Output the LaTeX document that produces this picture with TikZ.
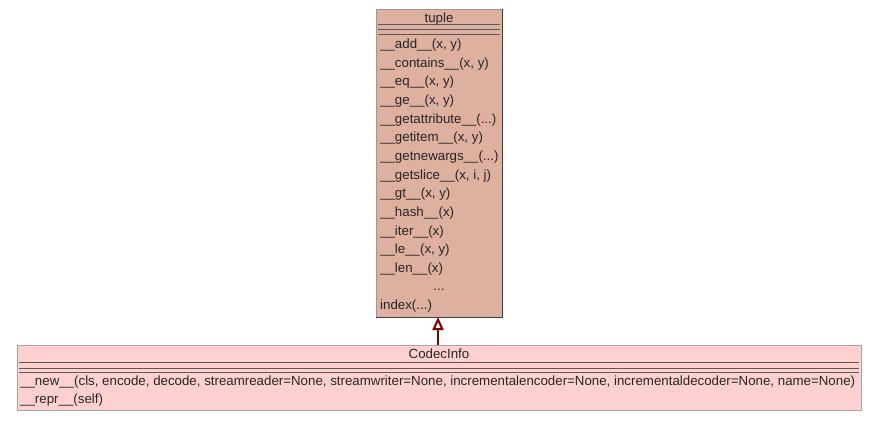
\documentclass[tikz,border=0pt]{standalone}
\usepackage{fontspec}
\setmainfont{Liberation Sans}
\usetikzlibrary{arrows.meta}
\definecolor{tuplefill}{RGB}{222,176,160}
\definecolor{codecfill}{RGB}{255,208,208}
\definecolor{edgered}{RGB}{128,0,0}
\begin{document}
\begin{tikzpicture}[x=1pt,y=-1pt,
  txt/.style={inner sep=0pt,anchor=base west,font=\fontsize{13.3}{14}\selectfont,text=black!85},
  ctxt/.style={inner sep=0pt,anchor=base,font=\fontsize{13.3}{14}\selectfont,text=black!85},
  sep/.style={draw=black!65,line width=0.8pt}]
\useasboundingbox (0,0) rectangle (876,421);
% tuple class
\fill[tuplefill] (376,9) rectangle (502,317);
\draw[black!40,line width=0.8pt] (376,317) -- (376,9) -- (502,9);
\draw[black!75,line width=1pt] (502,9) -- (502,317) -- (376,317);
\draw[sep] (378,24) -- (500,24);
\draw[sep] (378,29) -- (500,29);
\draw[sep] (378,34) -- (500,34);
\node[ctxt] (tupletitle) at (439,22) {tuple};
\node[coordinate] (tuplebot) at (438,317) {};
\node[txt] (tm0) at (380,48.50) {\_\_add\_\_(x, y)};
\node[txt] (tm1) at (380,67.15) {\_\_contains\_\_(x, y)};
\node[txt] (tm2) at (380,85.80) {\_\_eq\_\_(x, y)};
\node[txt] (tm3) at (380,104.45) {\_\_ge\_\_(x, y)};
\node[txt] (tm4) at (380,123.10) {\_\_getattribute\_\_(...)};
\node[txt] (tm5) at (380,141.75) {\_\_getitem\_\_(x, y)};
\node[txt] (tm6) at (380,160.40) {\_\_getnewargs\_\_(...)};
\node[txt] (tm7) at (380,179.05) {\_\_getslice\_\_(x, i, j)};
\node[txt] (tm8) at (380,197.70) {\_\_gt\_\_(x, y)};
\node[txt] (tm9) at (380,216.35) {\_\_hash\_\_(x)};
\node[txt] (tm10) at (380,235.00) {\_\_iter\_\_(x)};
\node[txt] (tm11) at (380,253.65) {\_\_le\_\_(x, y)};
\node[txt] (tm12) at (380,272.30) {\_\_len\_\_(x)};
\node[ctxt] (tdots) at (439,290.5) {...};
\node[txt] (tindex) at (380,309.5) {index(...)};
% CodecInfo class
\fill[codecfill] (17,345) rectangle (861,410);
\draw[black!35,line width=0.8pt] (17,410) -- (17,345) -- (861,345) -- (861,410) -- cycle;
\draw[sep] (19,362) -- (859,362);
\draw[sep] (19,368) -- (859,368);
\draw[sep] (19,372) -- (859,372);
\node[ctxt] (ctitle) at (439,358.5) {CodecInfo};
\node[coordinate] (ctop) at (438,345) {};
\node[txt] (cnew) at (20,385.5) {\_\_new\_\_(cls, encode, decode, streamreader=None, streamwriter=None, incrementalencoder=None, incrementaldecoder=None, name=None)};
\node[txt] (crepr) at (20,403.5) {\_\_repr\_\_(self)};
% inheritance
\draw[edgered,line width=2pt,-{Triangle[open,length=13pt,width=11pt]}] (ctop) -- (tuplebot);
\end{tikzpicture}
\end{document}
